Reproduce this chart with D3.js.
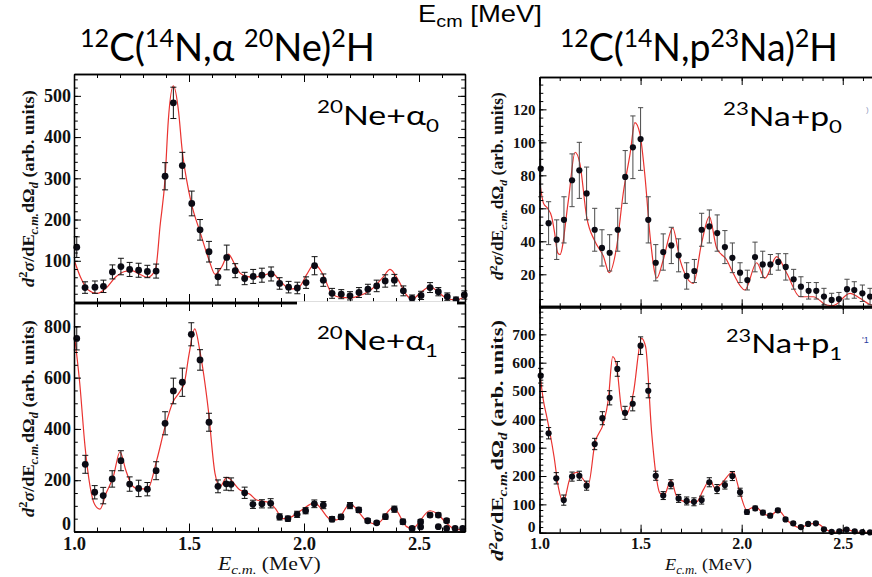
<!DOCTYPE html>
<html>
<head>
<meta charset="utf-8">
<script src="https://cdn.jsdelivr.net/npm/d3@7"></script>
<style>
  html, body { margin: 0; padding: 0; background: #fff; }
  svg { display: block; }
</style>
</head>
<body>
<svg id="fig" width="872" height="577"></svg>
<script>
// ---------------- data ----------------
// Energy axis (MeV) tick labels shared by all panels
const xTickValues = [1.0, 1.5, 2.0, 2.5];

// 20Ne + alpha0 : measured points, uncertainties, and fit curve
const ne0E   = [1.012,1.048,1.091,1.128,1.167,1.204,1.242,1.281,1.319,1.357,1.396,1.432,1.471,1.512,1.548,1.587,1.626,1.664,1.701,1.742,1.779,1.817,1.857,1.894,1.933,1.971,2.009,2.046,2.084,2.122,2.162,2.200,2.239,2.278,2.316,2.353,2.393,2.432,2.470,2.509,2.548,2.584,2.623,2.661,2.697];
const ne0Y   = [133,35,36,38,73,86,79,77,74,75,305,483,331,239,175,122,61,108,76,57,62,65,68,45,36,34,47,88,53,21,19,15,23,31,39,51,53,27,9,16,35,25,13,5,17];
const ne0Err = [25,14,15,15,17,20,17,17,15,17,33,38,32,30,25,25,20,30,17,15,17,17,17,14,14,14,14,22,15,12,11,10,12,12,14,15,14,12,8,10,12,10,9,7,10];
const ne0FitE = [1.00,1.03,1.06,1.10,1.14,1.18,1.22,1.25,1.29,1.32,1.345,1.357,1.374,1.396,1.41,1.432,1.455,1.47,1.49,1.51,1.548,1.587,1.614,1.643,1.671,1.70,1.722,1.75,1.78,1.82,1.86,1.90,1.94,1.98,2.01,2.046,2.084,2.12,2.16,2.20,2.23,2.29,2.345,2.374,2.41,2.446,2.47,2.504,2.548,2.59,2.62,2.657,2.697,2.70];
const ne0FitY = [103,58,30,21,34,60,74,76,66,60,70,86,183,300,440,524,460,370,295,240,170,102,67,86,116,90,70,62,60,64,70,49,31,37,65,92,65,21,11,10,13,29,61,79,53,17,7,21,37,21,9,5,12,13];
const ne0Ticks = [100,200,300,400,500];

// 20Ne + alpha1
const ne1E   = [1.012,1.049,1.090,1.127,1.166,1.204,1.242,1.281,1.319,1.357,1.396,1.432,1.471,1.510,1.548,1.587,1.626,1.662,1.683,1.742,1.778,1.817,1.855,1.894,1.930,1.970,2.007,2.045,2.084,2.122,2.161,2.200,2.238,2.277,2.316,2.354,2.393,2.430,2.470,2.507,2.548,2.584,2.620];
const ne1Y   = [753,262,153,140,205,276,185,168,165,237,422,548,582,769,669,426,176,186,184,151,106,108,110,57,50,67,81,108,103,48,57,101,84,42,34,58,87,38,12,38,64,64,42];
const ne1Err = [45,35,26,32,32,39,28,32,26,35,45,50,55,45,40,35,25,25,25,22,16,16,18,12,10,12,12,15,14,10,10,12,10,8,6,10,12,10,6,8,8,8,8];
const ne1TailE = [2.507,2.584,2.620,2.657,2.690];
const ne1TailY = [18,19,12,12,12];
const ne1FitE = [1.00,1.025,1.048,1.07,1.09,1.113,1.14,1.171,1.20,1.225,1.251,1.28,1.32,1.36,1.396,1.43,1.46,1.48,1.50,1.525,1.548,1.584,1.613,1.635,1.664,1.722,1.765,1.794,1.85,1.875,1.91,1.94,1.99,2.045,2.12,2.142,2.20,2.273,2.316,2.388,2.446,2.47,2.548,2.577,2.62,2.657,2.69,2.70];
const ne1FitY = [780,578,331,175,105,87,150,214,311,240,181,166,166,279,409,505,545,580,690,790,700,474,227,175,211,162,145,123,112,90,50,55,84,112,45,45,107,41,29,94,19,12,81,71,32,9,6,6];
const ne1Ticks = [0,200,400,600,800];

// 23Na + p0
const na0E   = [1.006,1.045,1.085,1.121,1.161,1.197,1.233,1.273,1.309,1.347,1.387,1.424,1.462,1.500,1.538,1.575,1.612,1.652,1.688,1.728,1.766,1.802,1.840,1.879,1.917,1.954,1.992,2.028,2.066,2.104,2.142,2.181,2.218,2.257,2.293,2.331,2.369,2.407,2.445,2.481,2.521,2.557,2.597,2.635];
const na0Y   = [84,51,41,53,77,83,69,47,36,33,47,79,97,102,53,27,33.5,37.5,31.5,19,22,47,49,45,36.5,30,21,16.5,30.5,26,26,27.5,24.5,17,12.5,10,10,6.5,4.5,5,11,10.5,8.5,6.5];
const na0Err = [17,13,12,14,16,17,16,13,11,11,13,16,19,19,14,11,11,11,10,8,7,10,10,11,10,9,6,6,9,8,6,5,8,6,6,5,5,5,4,4,6,5,5,5];
const na0FitE = [1.00,1.02,1.04,1.06,1.075,1.09,1.101,1.143,1.176,1.20,1.233,1.274,1.316,1.345,1.382,1.414,1.448,1.472,1.497,1.522,1.547,1.58,1.612,1.659,1.695,1.761,1.802,1.84,1.876,1.926,1.958,2.016,2.074,2.115,2.173,2.223,2.288,2.354,2.42,2.453,2.536,2.585,2.643,2.70];
const na0FitY = [77,63,60,55,45,33,32,65,94,87,55,40,31,21,37,69,93,112,105,79,43,17.6,28.7,48,28.7,14.5,39,55,36,28.7,20.6,10.5,27,17.6,30.7,20.6,6.4,6.4,1.4,1,8.5,5.5,1.4,1];
const na0Ticks = [20,40,60,80,100,120];

// 23Na + p1
const na1E   = [1.006,1.045,1.083,1.120,1.161,1.197,1.233,1.273,1.311,1.347,1.385,1.423,1.461,1.500,1.538,1.575,1.612,1.650,1.688,1.728,1.764,1.802,1.840,1.878,1.917,1.954,1.992,2.026,2.067,2.105,2.141,2.179,2.217,2.255,2.293,2.329,2.367,2.407,2.445,2.483,2.519,2.559,2.597,2.635];
const na1Y   = [554,351,192,115,198,201,166,313,404,476,578,423,455,660,501,201,131,171,121,112,109,115,178,154,168,200,143,73,86,71,60,79,47,33,20,31,33,12,3,5,11,5,2,1];
const na1Err = [26,20,20,18,16,16,16,20,23,25,26,23,25,31,25,16,14,16,14,14,14,14,16,16,14,16,14,8,8,8,7,7,6,6,5,5,5,4,4,4,4,4,4,4];
const na1FitE = [1.0,1.019,1.036,1.052,1.072,1.093,1.118,1.151,1.184,1.225,1.241,1.274,1.316,1.34,1.362,1.382,1.407,1.426,1.464,1.505,1.525,1.555,1.575,1.596,1.617,1.65,1.679,1.728,1.777,1.81,1.843,1.868,1.893,1.958,1.992,2.025,2.066,2.107,2.14,2.181,2.223,2.288,2.337,2.37,2.42,2.453,2.519,2.585,2.643,2.70];
const na1FitY = [574,468,409,351,268,162,109,192,213,180,168,315,386,468,621,586,433,415,492,686,656,351,210,139,133,186,127,109,109,151,186,157,168,215,139,80,92,68,59,80,45,18,31,33,10,1,10,1,1,1];
const na1Ticks = [0,100,200,300,400,500,600,700];

// ---------------- layout ----------------
const svg = d3.select('#fig');
const SERIF = "'Liberation Serif', 'Times New Roman', serif";
const SANS_TITLE = "Lato, 'Open Sans', 'Noto Sans', sans-serif";
const SANS = "'Liberation Sans', Arial, sans-serif";

const panels = [
  { id: 'ne0', left: 74, right: 465, top: 74, bottom: 302, yMax: 553, minorStep: 20,
    E: ne0E, Y: ne0Y, err: ne0Err, fitE: ne0FitE, fitY: ne0FitY, ticks: ne0Ticks,
    xLabels: false, tickFont: 18, pad: 3, r: 3.4, cap: 3, barColor: '#111', rightFrame: true },
  { id: 'ne1', left: 74, right: 465, top: 303, bottom: 531.5, yMax: 891, minorStep: 50,
    E: ne1E, Y: ne1Y, err: ne1Err, fitE: ne1FitE, fitY: ne1FitY, ticks: ne1Ticks,
    xLabels: true, tickFont: 18, pad: 3, r: 3.4, cap: 3, barColor: '#111', rightFrame: true,
    extraE: ne1TailE, extraY: ne1TailY },
  { id: 'na0', left: 539.5, right: 883.2, top: 77, bottom: 307.3, yMax: 139.6, minorStep: 5,
    E: na0E, Y: na0Y, err: na0Err, fitE: na0FitE, fitY: na0FitY, ticks: na0Ticks,
    xLabels: false, tickFont: 15, pad: 4, r: 3.1, cap: 2.6, barColor: '#4a4a4a', rightFrame: false },
  { id: 'na1', left: 539.5, right: 883.2, top: 306, bottom: 532.7, yMax: 800, minorStep: 20,
    E: na1E, Y: na1Y, err: na1Err, fitE: na1FitE, fitY: na1FitY, ticks: na1Ticks,
    xLabels: true, tickFont: 15.5, pad: 4, r: 3.1, cap: 2.6, barColor: '#111', rightFrame: false }
];

const defs = svg.append('defs');

function styleAxis(g, p) {
  g.select('.domain').attr('stroke', '#000').attr('stroke-width', 1.3);
  g.selectAll('.tick line').attr('stroke', '#000').attr('stroke-width', 1);
  g.attr('font-family', SERIF).attr('font-size', p.tickFont).attr('font-weight', 'bold');
  g.selectAll('.tick text').attr('fill', '#111');
}

function drawPanel(p) {
  const x = d3.scaleLinear().domain([1.0, 2.7]).range([p.left, p.right]);
  const y = d3.scaleLinear().domain([0, p.yMax]).range([p.bottom, p.top]);

  defs.append('clipPath').attr('id', 'clip-' + p.id)
    .append('rect')
    .attr('x', p.left).attr('y', p.top)
    .attr('width', p.right - p.left).attr('height', p.bottom - p.top);

  const g = svg.append('g').attr('class', 'panel-' + p.id);

  // fitted cross-section curve
  const fit = p.fitE.map((e, i) => [e, p.fitY[i]]);
  g.append('path')
    .attr('clip-path', `url(#clip-${p.id})`)
    .datum(fit)
    .attr('fill', 'none')
    .attr('stroke', '#ea3330')
    .attr('stroke-width', 1.2)
    .attr('d', d3.line().x(d => x(d[0])).y(d => y(d[1])).curve(d3.curveMonotoneX));

  // error bars
  const pts = p.E.map((e, i) => ({ e, v: p.Y[i], s: p.err[i] }));
  const bars = g.append('g').attr('stroke', p.barColor).attr('stroke-width', 1);
  pts.forEach(d => {
    const cx = x(d.e), y1 = y(d.v + d.s), y2 = y(Math.max(0, d.v - d.s));
    bars.append('line').attr('x1', cx).attr('x2', cx).attr('y1', y1).attr('y2', y2);
    bars.append('line').attr('x1', cx - p.cap).attr('x2', cx + p.cap).attr('y1', y1).attr('y2', y1);
    bars.append('line').attr('x1', cx - p.cap).attr('x2', cx + p.cap).attr('y1', y2).attr('y2', y2);
  });

  // data points
  g.append('g').selectAll('circle').data(pts).join('circle')
    .attr('cx', d => x(d.e)).attr('cy', d => y(d.v)).attr('r', p.r)
    .attr('fill', '#0b0b14');

  if (p.extraE) {
    g.append('g').selectAll('circle').data(p.extraE.map((e, i) => ({ e, v: p.extraY[i] }))).join('circle')
      .attr('cx', d => x(d.e)).attr('cy', d => y(d.v)).attr('r', p.r)
      .attr('fill', '#0b0b14');
  }

  // frame with inward ticks
  const xMinor = d3.range(10, 28).map(v => v / 10);
  const yMinor = d3.range(0, p.yMax, p.minorStep);
  const ax = svg.append('g');

  const left = ax.append('g').attr('transform', `translate(${p.left},0)`);
  left.append('g').call(d3.axisLeft(y).tickValues(yMinor).tickSizeInner(-3.8).tickSizeOuter(0).tickFormat(''));
  left.append('g').call(d3.axisLeft(y).tickValues(p.ticks).tickSizeInner(-7).tickSizeOuter(0)
    .tickPadding(p.pad).tickFormat(d3.format('d')));
  left.selectAll('g').each(function () { styleAxis(d3.select(this), p); });
  // the zero label sits just above the energy labels
  left.selectAll('.tick text').filter(d => d === 0).attr('dy', '-0.1em');

  const bottom = ax.append('g').attr('transform', `translate(0,${p.bottom})`);
  bottom.append('g').call(d3.axisBottom(x).tickValues(xMinor).tickSizeInner(-4).tickSizeOuter(0).tickFormat(''));
  bottom.append('g').call(d3.axisBottom(x).tickValues(xTickValues).tickSizeInner(-8).tickSizeOuter(0)
    .tickPadding(5).tickFormat(p.xLabels ? d3.format('.1f') : ''));
  bottom.selectAll('g').each(function () { styleAxis(d3.select(this), p); });
  bottom.selectAll('g').attr('font-size', p.tickFont + 0.5);

  const top = ax.append('g').attr('transform', `translate(0,${p.top})`);
  top.append('g').call(d3.axisTop(x).tickValues(xMinor).tickSizeInner(-4).tickSizeOuter(0).tickFormat(''));
  top.append('g').call(d3.axisTop(x).tickValues(xTickValues).tickSizeInner(-8).tickSizeOuter(0).tickFormat(''));
  top.selectAll('g').each(function () { styleAxis(d3.select(this), p); });

  if (p.rightFrame) {
    const right = ax.append('g').attr('transform', `translate(${p.right},0)`);
    right.append('g').call(d3.axisRight(y).tickValues(yMinor).tickSizeInner(-3.8).tickSizeOuter(0).tickFormat(''));
    right.append('g').call(d3.axisRight(y).tickValues(p.ticks).tickSizeInner(-7).tickSizeOuter(0).tickFormat(''));
    right.selectAll('g').each(function () { styleAxis(d3.select(this), p); });
  }
}

panels.forEach(drawPanel);

// label box that sits over the shared edge of the two left panels
svg.append('rect').attr('x', 297).attr('y', 301.3).attr('width', 160).attr('height', 70).attr('fill', '#fff');

// ---------------- text ----------------
function richText(parts, o) {
  const size = o.size;
  const t = svg.append('text')
    .attr('font-family', o.family)
    .attr('font-size', size)
    .attr('font-weight', o.weight || 'normal')
    .attr('fill', o.fill || '#000')
    .style('white-space', 'pre');
  let cur = 0;
  parts.forEach(([str, kind = '']) => {
    const isSup = kind.includes('sup'), isSub = kind.includes('sub');
    const target = isSup ? -o.supShift * size : isSub ? o.subShift * size : 0;
    const ts = t.append('tspan').attr('dy', (target - cur).toFixed(2)).text(str);
    if (isSup || isSub) ts.attr('font-size', (size * o.small).toFixed(2));
    if (kind.includes('it')) ts.attr('font-style', 'italic');
    cur = target;
  });
  return t;
}

// place text with its start at (x, y), stretched along its run to the given length
function place(t, x, y, width, rot) {
  const bb = t.node().getBBox();
  const s = width ? width / bb.width : 1;
  t.attr('transform', `translate(${x},${y})${rot ? ` rotate(${rot})` : ''} scale(${s.toFixed(4)},1)`);
}

const titleOpt = { size: 38, family: SANS_TITLE, supShift: 0.36, subShift: 0.2, small: 0.66 };
place(richText([['12', 'sup'], ['C('], ['14', 'sup'], ['N,α '], ['20', 'sup'], ['Ne)'], ['2', 'sup'], ['H']], titleOpt), 80, 61, 295);
place(richText([['12', 'sup'], ['C('], ['14', 'sup'], ['N,p'], ['23', 'sup'], ['Na)'], ['2', 'sup'], ['H']], titleOpt), 560, 61, 278);

place(richText([['E'], ['cm', 'sub'], [' [MeV]']],
  { size: 23, family: SANS, supShift: 0.3, subShift: 0.22, small: 0.72 }), 418, 22, 124);

const tagOpt = { size: 27, family: SANS_TITLE, supShift: 0.42, subShift: 0.26, small: 0.66 };
place(richText([['20', 'sup'], ['Ne+α'], ['0', 'sub']], tagOpt), 317, 124.5, 122);
place(richText([['20', 'sup'], ['Ne+α'], ['1', 'sub']], tagOpt), 317, 350, 121);
place(richText([['23', 'sup'], ['Na+p'], ['0', 'sub']], tagOpt), 723, 126, 119);
place(richText([['23', 'sup'], ['Na+p'], ['1', 'sub']], tagOpt), 726, 353, 116);

const yLabelParts = [['d', 'it'], ['2', 'sup'], ['σ', 'it'], ['/dE'], ['c.m.', 'sub it'], ['dΩ'], ['d', 'sub it'], [' (arb. units)']];
const yLabOpt = (size) => ({ size, family: SERIF, weight: 'bold', supShift: 0.38, subShift: 0.25, small: 0.68, fill: '#111' });
place(richText(yLabelParts, yLabOpt(17.5)), 34, 287, 197, -90);
place(richText(yLabelParts, yLabOpt(17.5)), 34, 517, 197, -90);
place(richText(yLabelParts, yLabOpt(16.5)), 503, 280, 188, -90);
place(richText(yLabelParts, yLabOpt(17)), 503, 561, 241, -90);

const xTitleParts = [['E', 'it'], ['c.m.', 'sub it'], [' (MeV)']];
place(richText(xTitleParts, { size: 18, family: SERIF, supShift: 0.3, subShift: 0.22, small: 0.7, fill: '#111' }), 218, 570, 104);
place(richText(xTitleParts, { size: 16.5, family: SERIF, supShift: 0.3, subShift: 0.22, small: 0.7, fill: '#111' }), 665, 570, 88);

// small stray marks at the right edge
svg.append('text').attr('x', 862).attr('y', 343).attr('font-family', SANS).attr('font-size', 9)
  .attr('fill', '#2b3c9e').text("'1");
svg.append('text').attr('x', 866).attr('y', 112).attr('font-family', SANS).attr('font-size', 8)
  .attr('fill', '#8f9ac0').text(')');
</script>
</body>
</html>
